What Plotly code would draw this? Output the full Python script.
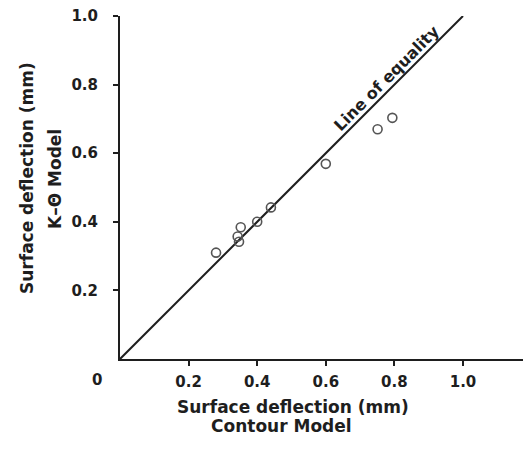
import plotly.graph_objects as go

# Data
contour_x = [0.28, 0.347, 0.343, 0.352, 0.40, 0.44, 0.60, 0.751, 0.794]
k_theta_y = [0.31, 0.342, 0.357, 0.384, 0.40, 0.442, 0.569, 0.67, 0.703]
equality_x = [0.0, 1.0]
equality_y = [0.0, 1.0]
tick_vals = [0.2, 0.4, 0.6, 0.8, 1.0]
tick_text = ["0.2", "0.4", "0.6", "0.8", "1.0"]

FONT = "DejaVu Sans"
INK = "#1e1e1e"

W, H = 523, 453
ML, MR, MT, MB = 120, 0, 16, 94
PW, PH = W - ML - MR, H - MT - MB


def px(x):
    return (x - ML) / PW


def py(y):
    return (H - MB - y) / PH


fig = go.Figure()
fig.add_trace(go.Scatter(
    x=equality_x, y=equality_y, mode="lines",
    line=dict(color=INK, width=2), hoverinfo="skip", showlegend=False))
fig.add_trace(go.Scatter(
    x=contour_x, y=k_theta_y, mode="markers",
    marker=dict(symbol="circle-open", size=9, color="#555555",
                line=dict(width=1.6, color="#555555")),
    showlegend=False))

axis_common = dict(
    showgrid=False, zeroline=False, showline=True, linecolor=INK, linewidth=2,
    ticks="outside", ticklen=5, tickwidth=1.5, tickcolor=INK,
    tickvals=tick_vals, ticktext=tick_text,
    tickfont=dict(family=FONT, size=15, color=INK, weight="bold"),
)

fig.update_xaxes(range=[0, PW / PH], ticklabelstandoff=3, **axis_common)
fig.update_yaxes(range=[0, 1.0], ticklabelstandoff=12, **axis_common)

title_font = dict(family=FONT, size=17, color=INK, weight="bold")


def ann(x, y, text, **kw):
    d = dict(x=x, y=y, xref="paper", yref="paper", text=text, showarrow=False,
             xanchor="center", yanchor="middle", font=title_font)
    d.update(kw)
    return d


annotations = [
    dict(x=0, y=0, xref="x", yref="y", text="0", showarrow=False,
         xanchor="center", yanchor="middle",
         xshift=-23, yshift=-21,
         font=dict(family=FONT, size=15, color=INK, weight="bold")),
    ann(px(293), py(407), "Surface deflection (mm)"),
    ann(px(281), py(426), "Contour Model"),
    ann(px(27), py(178), "Surface deflection (mm)", textangle=-90),
    ann(px(55), py(179), "K–Θ Model", textangle=-90),
    dict(x=0.776, y=0.819, xref="x", yref="y", textangle=-45,
         text="Line of equality", showarrow=False,
         xanchor="center", yanchor="middle",
         font=dict(family=FONT, size=16, color=INK, weight="bold")),
]

fig.update_layout(
    width=W, height=H,
    margin=dict(l=ML, r=MR, t=MT, b=MB, pad=0),
    paper_bgcolor="white", plot_bgcolor="white",
    annotations=annotations,
)

fig.write_html("out.html", config={"displayModeBar": False},
               post_script="document.body.style.margin='0';")
